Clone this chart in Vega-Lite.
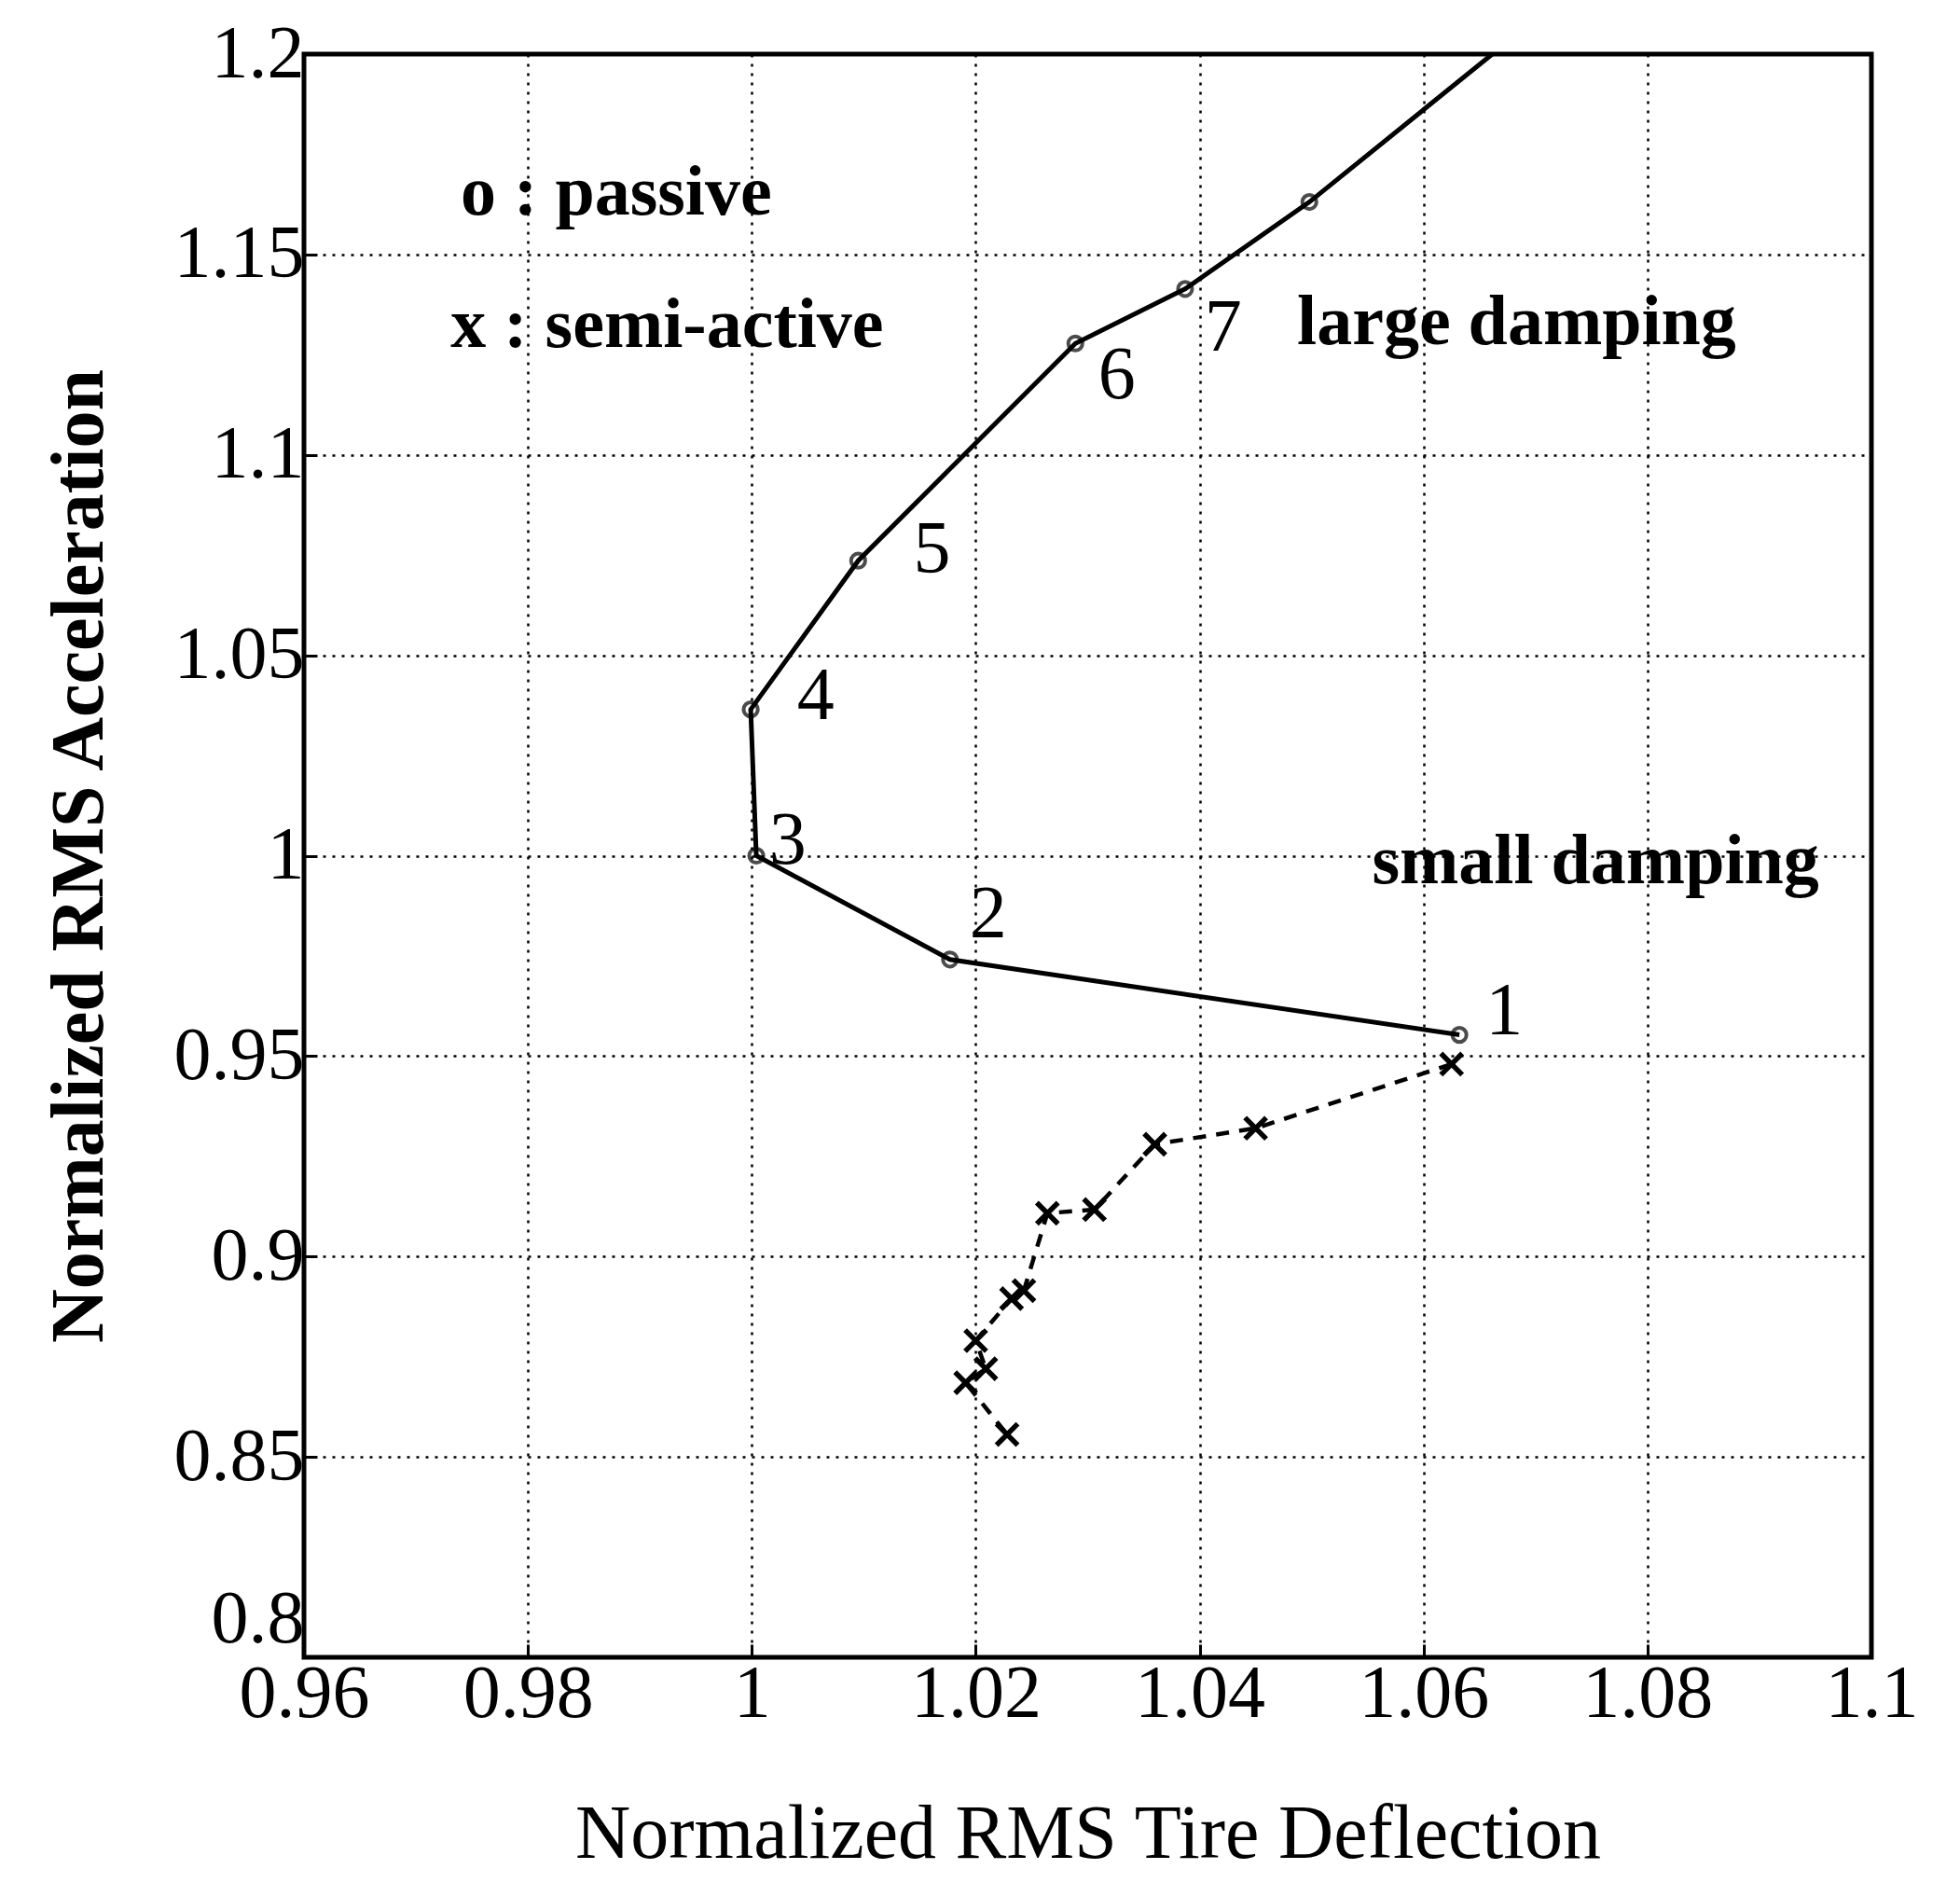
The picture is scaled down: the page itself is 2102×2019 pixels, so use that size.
{
  "$schema": "https://vega.github.io/schema/vega-lite/v6.json",
  "width": 1681,
  "height": 1719,
  "autosize": {"type": "none"},
  "padding": {"left": 326, "top": 58, "right": 95, "bottom": 242},
  "background": "white",
  "config": {
    "font": "Liberation Serif",
    "view": {"stroke": "black", "strokeWidth": 5},
    "axis": {
      "domain": false,
      "grid": true,
      "gridColor": "black",
      "gridDash": [3, 7],
      "gridWidth": 2.5,
      "gridOpacity": 1,
      "ticks": true,
      "tickColor": "black",
      "tickWidth": 3,
      "tickSize": -14,
      "labelColor": "black",
      "labelFont": "Liberation Serif",
      "labelFontSize": 80,
      "labelFlush": false,
      "titleColor": "black",
      "titleFont": "Liberation Serif"
    }
  },
  "datasets": {
    "passive": [
      {"setting": 1, "tire": 1.0632, "acc": 0.9553},
      {"setting": 2, "tire": 1.0177, "acc": 0.9741},
      {"setting": 3, "tire": 1.0004, "acc": 1.0},
      {"setting": 4, "tire": 0.9999, "acc": 1.0365},
      {"setting": 5, "tire": 1.0095, "acc": 1.0736},
      {"setting": 6, "tire": 1.0289, "acc": 1.1278},
      {"setting": 7, "tire": 1.0387, "acc": 1.1414},
      {"setting": 8, "tire": 1.0498, "acc": 1.1631},
      {"setting": 9, "tire": 1.075, "acc": 1.22}
    ],
    "semiactive": [
      {"step": 1, "tire": 1.0625, "acc": 0.948},
      {"step": 2, "tire": 1.045, "acc": 0.932},
      {"step": 3, "tire": 1.036, "acc": 0.928},
      {"step": 4, "tire": 1.0306, "acc": 0.9117},
      {"step": 5, "tire": 1.0264, "acc": 0.9108},
      {"step": 6, "tire": 1.0243, "acc": 0.8915},
      {"step": 7, "tire": 1.0232, "acc": 0.8895},
      {"step": 8, "tire": 1.02, "acc": 0.879},
      {"step": 9, "tire": 1.0209, "acc": 0.872},
      {"step": 10, "tire": 1.0191, "acc": 0.8685},
      {"step": 11, "tire": 1.0228, "acc": 0.8556}
    ],
    "settingTags": [
      {"tire": 1.0672, "acc": 0.961, "tag": "1"},
      {"tire": 1.0211, "acc": 0.9853, "tag": "2"},
      {"tire": 1.0032, "acc": 1.0037, "tag": "3"},
      {"tire": 1.0057, "acc": 1.0396, "tag": "4"},
      {"tire": 1.0161, "acc": 1.0761, "tag": "5"},
      {"tire": 1.0326, "acc": 1.1198, "tag": "6"},
      {"tire": 1.0421, "acc": 1.1317, "tag": "7"}
    ],
    "notes": [
      {"tire": 0.974, "acc": 1.16, "note": "o : passive"},
      {"tire": 0.9731, "acc": 1.127, "note": "x : semi-active"},
      {"tire": 1.0487, "acc": 1.1276, "note": "large damping"},
      {"tire": 1.0554, "acc": 0.9931, "note": "small damping"}
    ]
  },
  "encoding": {
    "x": {
      "field": "tire",
      "type": "quantitative",
      "scale": {"domain": [0.96, 1.1], "nice": false, "zero": false},
      "axis": {
        "title": "Normalized RMS Tire Deflection",
        "titleFontSize": 82,
        "titleFontWeight": "normal",
        "titlePadding": 70,
        "values": [0.96, 0.98, 1, 1.02, 1.04, 1.06, 1.08, 1.1],
        "format": "~g",
        "labelPadding": 14
      }
    },
    "y": {
      "field": "acc",
      "type": "quantitative",
      "scale": {"domain": [0.8, 1.2], "nice": false, "zero": false},
      "axis": {
        "title": "Normalized RMS Acceleration",
        "titleFontSize": 80,
        "titleFontWeight": "bold",
        "titlePadding": 60,
        "values": [0.8, 0.85, 0.9, 0.95, 1, 1.05, 1.1, 1.15, 1.2],
        "format": "~g",
        "labelPadding": 14,
        "labelBaseline": {"condition": {"test": "datum.value <= 0.8", "value": "bottom"}, "value": "middle"}
      }
    }
  },
  "layer": [
    {
      "data": {"name": "passive"},
      "mark": {"type": "line", "color": "black", "strokeWidth": 5, "clip": true},
      "encoding": {"order": {"field": "setting", "type": "quantitative"}}
    },
    {
      "data": {"name": "passive"},
      "mark": {"type": "point", "shape": "circle", "filled": false, "color": "black", "strokeWidth": 4, "size": 230, "clip": true}
    },
    {
      "data": {"name": "semiactive"},
      "mark": {"type": "line", "color": "black", "strokeWidth": 4.5, "strokeDash": [14, 11]},
      "encoding": {"order": {"field": "step", "type": "quantitative"}}
    },
    {
      "data": {"name": "semiactive"},
      "mark": {"type": "point", "shape": "M -1 -1 L 1 1 M -1 1 L 1 -1", "filled": false, "color": "black", "strokeWidth": 5.5, "size": 520, "opacity": 1}
    },
    {
      "data": {"name": "settingTags"},
      "mark": {"type": "text", "font": "Liberation Serif", "fontSize": 80, "align": "center", "baseline": "middle", "color": "black"},
      "encoding": {"text": {"field": "tag", "type": "nominal"}}
    },
    {
      "data": {"name": "notes"},
      "mark": {"type": "text", "font": "Liberation Serif", "fontSize": 76, "fontWeight": "bold", "align": "left", "baseline": "alphabetic", "color": "black"},
      "encoding": {"text": {"field": "note", "type": "nominal"}}
    }
  ]
}
